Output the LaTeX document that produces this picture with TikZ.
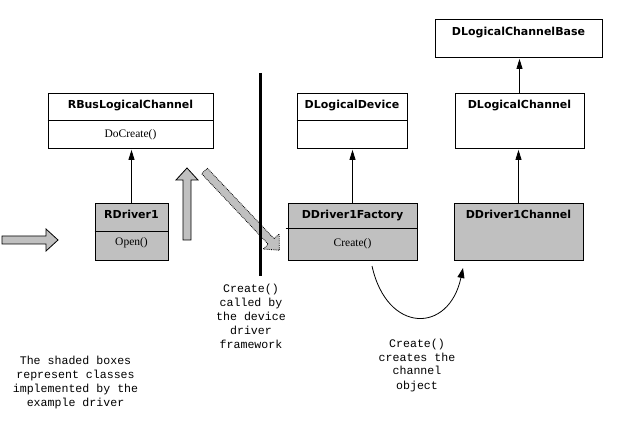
\documentclass[tikz,border=0pt]{standalone}
\usepackage{fontspec}
\usepackage{tikz}
\usetikzlibrary{arrows.meta, positioning}
\newfontfamily\classfont{DejaVu Sans}
\newfontfamily\methodfont{Liberation Serif}
\newfontfamily\notefont{Liberation Mono}
\definecolor{shade}{RGB}{192,192,192}

\begin{document}
\begin{tikzpicture}[x=1pt, y=-1pt,
        classbox/.style={draw, line width=0.8pt, inner sep=0pt},
        title/.style={inner sep=0pt, font=\classfont\bfseries\fontsize{11}{13}\selectfont},
        method/.style={inner sep=0pt, font=\methodfont\fontsize{11.5}{13}\selectfont},
        note/.style={align=center, inner sep=0pt, font=\notefont\fontsize{11.6}{14}\selectfont},
        inherit/.style={line width=0.8pt, -{Triangle[length=10pt, width=6pt]}, shorten >=1.5pt},
        blockarrow/.style={draw, line width=0.8pt, fill=shade},
        dottedarrow/.style={draw, densely dotted, line width=0.8pt, fill=shade}]
        \useasboundingbox (0,0) rectangle (618,427);
        % Class boxes
        \node[classbox, minimum width=165pt, minimum height=55pt] (rbus) at (130.5,120.5) {};
        \node[classbox, fill=shade, minimum width=73pt, minimum height=57pt] (rdrv) at (131.5,231.5) {};
        \node[classbox, minimum width=110pt, minimum height=55pt] (ldev) at (352,120.5) {};
        \node[classbox, minimum width=129pt, minimum height=55pt] (lchan) at (519.5,120.5) {};
        \node[classbox, minimum width=167pt, minimum height=38pt] (lbase) at (518.5,38) {};
        \node[classbox, fill=shade, minimum width=129pt, minimum height=57pt] (dfac) at (352.5,231.5) {};
        \node[classbox, fill=shade, minimum width=129pt, minimum height=57pt] (dchan) at (518.5,231.5) {};
        % Dividers
        \draw[line width=0.8pt] ([yshift=-28pt]rbus.north west) -- ([yshift=-28pt]rbus.north east);
        \draw[line width=0.8pt] ([yshift=-29pt]rdrv.north west) -- ([yshift=-29pt]rdrv.north east);
        \draw[line width=0.8pt] ([yshift=-28pt]ldev.north west) -- ([yshift=-28pt]ldev.north east);
        \draw[line width=0.8pt] ([xshift=-2pt, yshift=-26pt]dfac.north west) -- ([yshift=-26pt]dfac.north east);
        % Titles
        \node[title, below=7.5pt of rbus.north] (rbustitle) {RBusLogicalChannel};
        \node[title, below=7.5pt of rdrv.north] (rdrvtitle) {RDriver1};
        \node[title, below=7.5pt of ldev.north] (ldevtitle) {DLogicalDevice};
        \node[title, below=7.5pt of lchan.north] (lchantitle) {DLogicalChannel};
        \node[title, below=8.5pt of lbase.north] (lbasetitle) {DLogicalChannelBase};
        \node[title, below=7.5pt of dfac.north] (dfactitle) {DDriver1Factory};
        \node[title, below=7.5pt of dchan.north] (dchantitle) {DDriver1Channel};
        % Methods
        \node[method] (rbusop) at (130.5,135) {DoCreate()};
        \node[method] (rdrvop) at (131.5,243) {Open()};
        \node[method] (dfacop) at (352.5,243.5) {Create()};
        % Inheritance
        \foreach \sub/\super in {rdrv/rbus, dfac/ldev, dchan/lchan, lchan/lbase} {
            \draw[inherit] (\sub.north) -- (\sub.north |- \super.south);
        }
        % Block arrows
        \foreach \ax/\ay/\ang/\len/\sty in {2/240/0/56/blockarrow, 187/240/90/72/blockarrow, 204.5/171/-46.6/109/dottedarrow} {
            \draw[\sty, shift={(\ax,\ay)}, rotate=\ang]
                (0,-4) -- (\len-12,-4) -- (\len-12,-11) -- (\len,0) -- (\len-12,11) -- (\len-12,4) -- (0,4) -- cycle;
        }
        % Separator
        \coordinate (septop) at (260.5,73);
        \coordinate (sepbot) at (260.5,276);
        \draw[line width=3pt] (septop) -- (sepbot);
        % Create() curve
        \coordinate (cstart) at (372,266);
        \coordinate (cend) at (463,268);
        \draw[line width=0.8pt, -{Triangle[length=10pt, width=7pt]}] (cstart) .. controls (387,334) and (449,334) .. (cend);
        % Notes
        \node[note] (callnote) at (251,316) {Create()\\called by\\the device\\driver\\framework};
        \node[note] (createnote) at (417,365) {Create()\\creates the\\channel\\object};
        \node[note] (shadenote) at (75.5,382) {The shaded boxes\\represent classes\\implemented by the\\example driver};
    \end{tikzpicture}
\end{document}
